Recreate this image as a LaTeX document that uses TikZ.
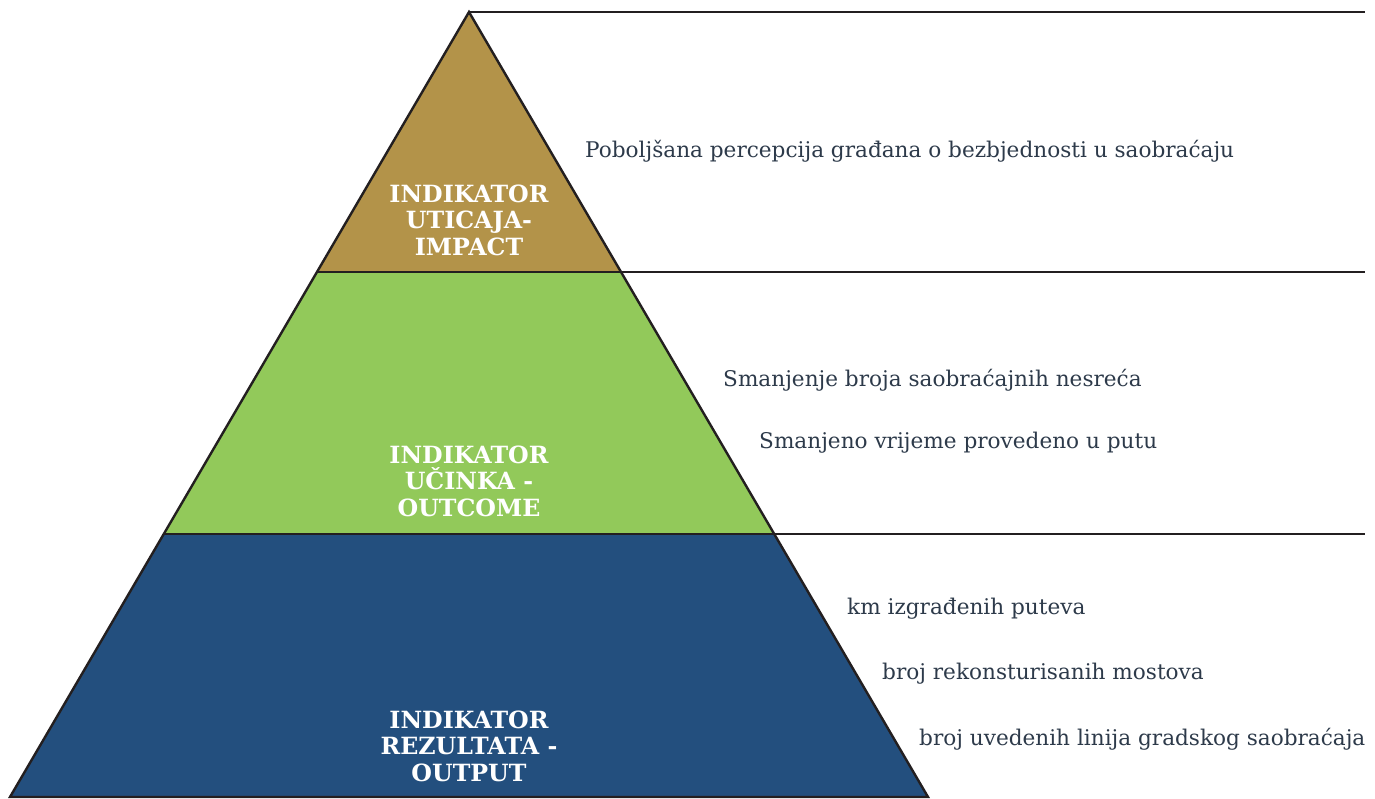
\documentclass[tikz,border=0pt]{standalone}
\usepackage{fontspec}
\setmainfont{DejaVu Serif}
\definecolor{gold}{HTML}{B39349}
\definecolor{leaf}{HTML}{92C95A}
\definecolor{navy}{HTML}{234F7E}
\definecolor{ink}{HTML}{2D3A4A}
\definecolor{rule}{HTML}{231F20}
\begin{document}
\begin{tikzpicture}[x=1pt,y=-1pt,
  rulel/.style={draw=rule,line width=2.4pt},
  lbl/.style={text=white,font=\fontsize{23.7}{26.5}\selectfont\bfseries,align=center,inner sep=0pt},
  itm/.style={text=ink,font=\fontsize{21.6}{24}\selectfont,anchor=west,inner sep=0pt}]
\useasboundingbox (0,0) rectangle (1375,799);
\coordinate (apex) at (469,12);
\coordinate (l1) at (316.5,272); \coordinate (r1) at (621.5,272);
\coordinate (l2) at (164,534);   \coordinate (r2) at (774,534);
\coordinate (l3) at (10,797);    \coordinate (r3) at (928,797);
\coordinate (e0) at (1365,12); \coordinate (e1) at (1365,272); \coordinate (e2) at (1365,534);
\fill[gold] (apex) -- (r1) -- (l1) -- cycle;
\fill[leaf] (l1) -- (r1) -- (r2) -- (l2) -- cycle;
\fill[navy] (l2) -- (r2) -- (r3) -- (l3) -- cycle;
\draw[rulel,line join=miter] (l3) -- (apex) -- (r3) -- cycle;
\draw[rulel] (apex) -- (e0);
\draw[rulel] (l1) -- (e1);
\draw[rulel] (l2) -- (e2);
\node[lbl] (t1) at (469,220) {INDIKATOR\\UTICAJA-\\IMPACT};
\node[lbl] (t2) at (469,481) {INDIKATOR\\UČINKA -\\OUTCOME};
\node[lbl] (t3) at (469,746) {INDIKATOR\\REZULTATA -\\OUTPUT};
\node[itm] (a1) at (585,151) {Poboljšana percepcija građana o bezbjednosti u saobraćaju};
\node[itm] (b1) at (723,380) {Smanjenje broja saobraćajnih nesreća};
\node[itm] (b2) at (759,443) {Smanjeno vrijeme provedeno u putu};
\node[itm] (c1) at (847,609) {km izgrađenih puteva};
\node[itm] (c2) at (882,674) {broj rekonsturisanih mostova};
\node[itm] (c3) at (919,739) {broj uvedenih linija gradskog saobraćaja};
\end{tikzpicture}
\end{document}
